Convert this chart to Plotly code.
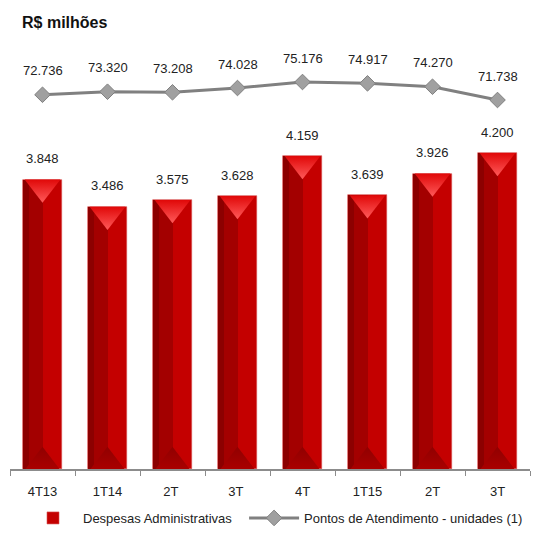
import plotly.graph_objects as go

categories = ["4T13", "1T14", "2T ", "3T ", "4T", "1T15", "2T", "3T"]
despesas = [3848, 3486, 3575, 3628, 4159, 3639, 3926, 4200]
pontos = [72736, 73320, 73208, 74028, 75176, 74917, 74270, 71738]

def br(v):
    return f"{v:,}".replace(",", ".")

BAR_W = 0.585
fig = go.Figure()

# main bar (right, brighter part)
fig.add_trace(go.Bar(
    x=categories, y=despesas, width=BAR_W,
    name="Despesas Administrativas\u00a0\u00a0",
    marker=dict(color="#c40000", line=dict(color="#d85050", width=0.6)),
    hoverinfo="skip", showlegend=True, legendrank=1,
))
# darker left half
fig.add_trace(go.Bar(
    x=categories, y=despesas, width=BAR_W / 2, offset=-BAR_W / 2,
    marker=dict(color="#a30000", line=dict(width=0)),
    showlegend=False, hoverinfo="skip",
))
# far-left dark strip
fig.add_trace(go.Bar(
    x=categories, y=despesas, width=BAR_W / 7, offset=-BAR_W / 2,
    marker=dict(color="#8c0000", line=dict(width=0)),
    showlegend=False, hoverinfo="skip",
))

# top bevel triangle
fig.add_trace(go.Scatter(
    x=categories, y=[v - 100 for v in despesas], mode="markers",
    marker=dict(symbol="triangle-down", size=31, color="#e00808",
                gradient=dict(type="vertical", color="#ff5a5a"),
                line=dict(width=0)),
    showlegend=False, hoverinfo="skip",
))
# bottom bevel triangle
fig.add_trace(go.Scatter(
    x=categories, y=[95 for _ in despesas], mode="markers",
    marker=dict(symbol="triangle-up", size=30, color="#900000",
                gradient=dict(type="vertical", color="#aa0000"),
                line=dict(width=0)),
    showlegend=False, hoverinfo="skip",
))

fig.add_trace(go.Scatter(
    x=categories, y=pontos, yaxis="y2", mode="lines+markers",
    name="Pontos de Atendimento - unidades (1)",
    line=dict(color="#808080", width=3),
    marker=dict(symbol="diamond", size=12, color="#a0a0a0",
                line=dict(color="#808080", width=1)),
    hoverinfo="skip", legendrank=2,
))

annotations = []
for c, v in zip(categories, despesas):
    annotations.append(dict(x=c, y=v, xref="x", yref="y", text=br(v),
                            showarrow=False, yshift=21,
                            font=dict(size=13, color="#222222")))
for c, v in zip(categories, pontos):
    annotations.append(dict(x=c, y=v, xref="x", yref="y2", text=br(v),
                            showarrow=False, yshift=24,
                            font=dict(size=13, color="#222222")))

fig.update_layout(
    width=543, height=539,
    margin=dict(l=10, r=13, t=40, b=70, autoexpand=False),
    paper_bgcolor="white", plot_bgcolor="white",
    barmode="overlay", bargap=0,
    font=dict(family="Liberation Sans, Arial, sans-serif", size=13, color="#222222"),
    title=dict(text="<b>R$ milhões</b>", x=22 / 543, xanchor="left", y=1 - 22 / 539,
               yanchor="middle", font=dict(size=16, color="#111111")),
    xaxis=dict(type="category", categoryorder="array", categoryarray=categories,
               range=[-0.5, 7.5], showline=True, linecolor="#8c8c8c", linewidth=1.5,
               ticks="outside", tickson="boundaries", ticklen=5, tickcolor="#8c8c8c",
               ticklabelstandoff=10,
               showgrid=False, zeroline=False, tickfont=dict(size=13, color="#222222")),
    yaxis=dict(range=[0, 5705], visible=False, showgrid=False, zeroline=False),
    yaxis2=dict(range=[1265, 83197], overlaying="y", visible=False, showgrid=False,
                zeroline=False),
    legend=dict(orientation="h", x=0.025, xanchor="left",
                yref="container", y=1 - 518 / 539, yanchor="middle",
                font=dict(size=13, color="#222222"), itemwidth=50,
                bgcolor="rgba(0,0,0,0)"),
    annotations=annotations,
    showlegend=True,
)

fig.write_html("out.html", config={"displayModeBar": False},
               post_script="document.body.style.margin='0';")
